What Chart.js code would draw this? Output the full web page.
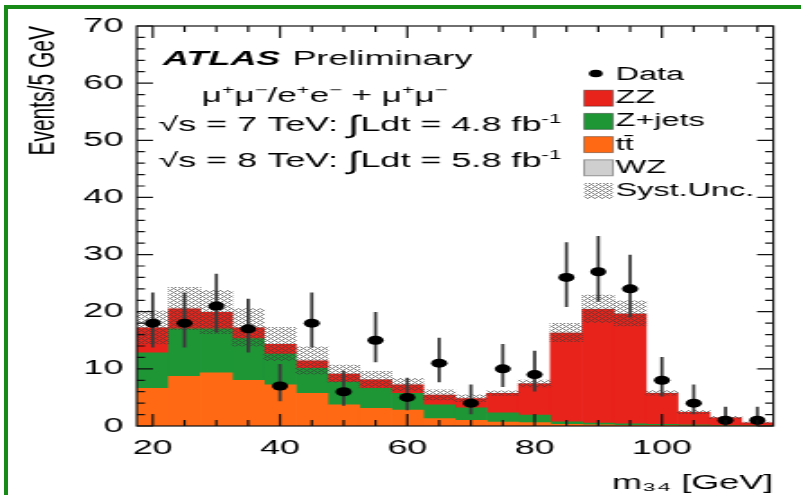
<!DOCTYPE html>
<html>
<head>
<meta charset="utf-8">
<script src="https://cdn.jsdelivr.net/npm/chart.js@4.4.1/dist/chart.umd.min.js"></script>
<style>
  html, body { margin: 0; padding: 0; background: #fff; }
  #frame { position: absolute; left: 0; top: 0; width: 801px; height: 495px; overflow: hidden; background: #fff; }
  #border { position: absolute; left: 4px; top: 5px; width: 800px; height: 495px; border-left: 4px solid #178a17; border-top: 4px solid #178a17; }
  /* the reference is a horizontally stretched picture, so the chart is drawn narrow and stretched */
  #wrap { position: absolute; left: 0; top: 0; width: 445px; height: 495px; transform: scaleX(1.8); transform-origin: 0 0; }
</style>
</head>
<body>
<div id="frame">
  <div id="border"></div>
  <div id="wrap"><canvas id="m34Chart"></canvas></div>
</div>
<script>
document.addEventListener('DOMContentLoaded', function() {
  const FONT = "'Liberation Sans', Arial, Helvetica, sans-serif";

  // bin centres, 5 GeV bins from 17.5 to 117.5
  const binCenters = [20, 25, 30, 35, 40, 45, 50, 55, 60, 65, 70, 75, 80, 85, 90, 95, 100, 105, 110, 115];
  const dataCounts = [18, 18, 21, 17, 7, 18, 6, 15, 5, 11, 4, 10, 9, 26, 27, 24, 8, 4, 1, 1];
  const dataErrUp = [5.3, 5.3, 5.6, 5.2, 3.8, 5.3, 3.6, 4.9, 3.4, 4.4, 3.2, 4.3, 4.1, 6.1, 6.2, 5.9, 4.0, 3.2, 2.3, 2.3];
  const dataErrDown = [4.2, 4.2, 4.6, 4.1, 2.6, 4.2, 2.4, 3.8, 2.2, 3.3, 1.9, 3.1, 2.9, 5.1, 5.2, 4.9, 2.8, 1.9, 0.8, 0.8];

  const ttbar = [6.6, 8.7, 9.3, 8.0, 7.2, 5.7, 3.7, 3.1, 2.8, 1.3, 1.0, 0.7, 0.6, 0.3, 0.2, 0.1, 0.1, 0.05, 0.05, 0.02];
  const zjets = [6.2, 8.3, 7.7, 7.3, 5.4, 4.4, 4.0, 3.5, 2.9, 2.4, 2.2, 1.6, 1.3, 0.45, 0.3, 0.3, 0.2, 0.15, 0.05, 0.03];
  const zz = [4.4, 3.5, 2.9, 1.9, 1.7, 1.3, 1.4, 1.5, 1.5, 1.7, 1.6, 3.4, 5.5, 15.5, 19.9, 19.2, 5.4, 2.2, 1.35, 0.5];
  const wz = [0.05, 0.05, 0.05, 0.05, 0.05, 0.05, 0.05, 0.05, 0.05, 0.05, 0.05, 0.05, 0.05, 0.1, 0.1, 0.1, 0.1, 0.05, 0.05, 0.05];
  const systUnc = [2.9, 3.7, 3.8, 3.3, 2.9, 2.4, 1.5, 1.4, 1.1, 0.9, 0.6, 0.4, 0.6, 1.6, 2.4, 2.2, 0.4, 0.3, 0.2, 0.1];

  const xTicks = [20, 40, 60, 80, 100];
  const xMinorTicks = [20, 25, 30, 35, 40, 45, 50, 55, 60, 65, 70, 75, 80, 85, 90, 95, 100, 105, 110, 115];
  const yTicks = [0, 10, 20, 30, 40, 50, 60, 70];
  const yMinorTicks = [2, 4, 6, 8, 12, 14, 16, 18, 22, 24, 26, 28, 32, 34, 36, 38, 42, 44, 46, 48, 52, 54, 56, 58, 62, 64, 66, 68];

  const colZZ = '#e8231b';
  const colZjets = '#1e9636';
  const colTT = '#ff6914';
  const colWZ = '#cfcfcf';

  // cross hatch for the systematic band
  function makeHatch() {
    const c = document.createElement('canvas');
    c.width = 8; c.height = 8;
    const g = c.getContext('2d');
    g.fillStyle = 'rgba(60,60,60,0.65)';
    for (let i = 0; i < 8; i++) {
      for (let j = 0; j < 8; j++) {
        if ((i + j) % 4 === 0 || (i - j + 8) % 4 === 0) g.fillRect(i, j, 1, 1);
      }
    }
    return c;
  }
  const ctx = document.getElementById('m34Chart').getContext('2d');
  const hatch = ctx.createPattern(makeHatch(), 'repeat');

  const total = binCenters.map((_, i) => ttbar[i] + zjets[i] + zz[i] + wz[i]);
  const pts = arr => binCenters.map((x, i) => ({x: x, y: arr[i]}));

  const datasets = [
    {
      type: 'line', label: 'Data', stack: 'data',
      data: pts(dataCounts), showLine: false,
      pointRadius: 4.5, pointBackgroundColor: '#000', pointBorderWidth: 0
    },
    {
      label: 'err', stack: 'err', grouped: false,
      data: binCenters.map((x, i) => ({x: x, y: [dataCounts[i] - dataErrDown[i], dataCounts[i] + dataErrUp[i]]})),
      backgroundColor: '#3a3a3a', barThickness: 1.1
    },
    {
      label: 'Syst.Unc.', stack: 'unc', grouped: false,
      data: binCenters.map((x, i) => ({x: x, y: [total[i] - systUnc[i], total[i] + systUnc[i]]})),
      backgroundColor: hatch, barPercentage: 1, categoryPercentage: 1
    },
    { label: 'tt\u0304', stack: 'mc', grouped: false, data: pts(ttbar), backgroundColor: colTT, barPercentage: 1, categoryPercentage: 1 },
    { label: 'Z+jets', stack: 'mc', grouped: false, data: pts(zjets), backgroundColor: colZjets, barPercentage: 1, categoryPercentage: 1 },
    { label: 'ZZ', stack: 'mc', grouped: false, data: pts(zz), backgroundColor: colZZ, barPercentage: 1, categoryPercentage: 1 },
    { label: 'WZ', stack: 'mc', grouped: false, data: pts(wz), backgroundColor: colWZ, barPercentage: 1, categoryPercentage: 1 }
  ];

  function drawRich(c, x, y, parts, size) {
    let cx = x;
    parts.forEach(([txt, mode]) => {
      let s = size, dy = 0;
      if (mode === 'sup') { s = size * 0.62; dy = -size * 0.4; }
      if (mode === 'big') { s = size * 1.25; dy = size * 0.08; }
      c.font = `${s}px ${FONT}`;
      c.fillText(txt, cx, y + dy);
      cx += c.measureText(txt).width;
    });
  }

  // frame with inward ticks on all four sides, plus labels and legend
  const atlasDecor = {
    id: 'atlasDecor',
    afterDatasetsDraw(chart) {
      const {ctx: c, chartArea: a, scales: {x, y}} = chart;
      c.save();
      c.strokeStyle = '#111';
      c.lineWidth = 1.2;
      c.strokeRect(a.left, a.top, a.right - a.left, a.bottom - a.top);
      c.beginPath();
      xMinorTicks.forEach(v => {
        const px = x.getPixelForValue(v);
        const len = xTicks.includes(v) ? 12 : 6;
        c.moveTo(px, a.bottom); c.lineTo(px, a.bottom - len);
        c.moveTo(px, a.top); c.lineTo(px, a.top + len);
      });
      yTicks.concat(yMinorTicks).forEach(v => {
        const py = y.getPixelForValue(v);
        const len = yTicks.includes(v) ? 9 : 4.5;
        c.moveTo(a.left, py); c.lineTo(a.left + len, py);
        c.moveTo(a.right, py); c.lineTo(a.right - len, py);
      });
      c.stroke();

      // text block
      c.fillStyle = '#000';
      c.textBaseline = 'alphabetic';
      c.textAlign = 'left';
      c.font = `italic bold 20px ${FONT}`;
      c.fillText('ATLAS', 90.5, 65);
      c.font = `20px ${FONT}`;
      c.fillText('Preliminary', 162.5, 65);
      drawRich(c, 112, 102, [['\u03bc'], ['+', 'sup'], ['\u03bc'], ['\u2212', 'sup'], ['/e'], ['+', 'sup'], ['e'], ['\u2212', 'sup'],
        [' + \u03bc'], ['+', 'sup'], ['\u03bc'], ['\u2212', 'sup']], 19.5);
      drawRich(c, 88, 131, [['\u221as = 7 TeV: '], ['\u222b', 'big'], ['Ldt = 4.8 fb'], ['-1', 'sup']], 20);
      drawRich(c, 88, 167, [['\u221as = 8 TeV: '], ['\u222b', 'big'], ['Ldt = 5.8 fb'], ['-1', 'sup']], 20);

      // legend
      const order = [0, 5, 4, 3, 6, 2];
      c.font = `18px ${FONT}`;
      c.textBaseline = 'middle';
      order.forEach((di, row) => {
        const ds = chart.data.datasets[di];
        const cy = 75 + row * 23.2;
        if (di === 0) {
          c.fillStyle = '#000';
          c.beginPath(); c.arc(331, cy - 1.5, 3.8, 0, Math.PI * 2); c.fill();
        } else {
          c.fillStyle = ds.backgroundColor;
          c.fillRect(324.5, cy - 8, 16, 16);
          if (di !== 2) {
            c.strokeStyle = 'rgba(0,0,0,0.35)'; c.lineWidth = 1;
            c.strokeRect(324.5, cy - 8, 16, 16);
          }
        }
        c.fillStyle = '#000';
        c.fillText(ds.label, 342, cy);
      });
      c.restore();
    }
  };

  new Chart(ctx, {
    type: 'bar',
    data: { datasets: datasets },
    options: {
      responsive: true,
      maintainAspectRatio: false,
      animation: false,
      events: [],
      layout: { padding: { left: 0, top: 26, right: 15.4, bottom: 0 } },
      plugins: { legend: { display: false }, tooltip: { enabled: false } },
      scales: {
        x: {
          type: 'linear', min: 17.5, max: 117.5, offset: false, stacked: true,
          grid: { display: false, drawTicks: false }, border: { display: false },
          afterBuildTicks: s => { s.ticks = xTicks.map(v => ({value: v})); },
          afterFit: s => { s.height = 69; },
          ticks: { color: '#000', padding: 10, font: { size: 20, family: FONT }, maxRotation: 0 },
          title: { display: true, text: 'm\u2083\u2084 [GeV]', align: 'end', color: '#000',
                   font: { size: 20, family: FONT }, padding: { top: 2, bottom: 0 } }
        },
        y: {
          min: 0, max: 70, stacked: true,
          grid: { display: false, drawTicks: false }, border: { display: false },
          afterBuildTicks: s => { s.ticks = yTicks.map(v => ({value: v})); },
          afterFit: s => { s.width = 76; },
          ticks: { color: '#000', padding: 7.5, font: { size: 20, family: FONT } },
          title: { display: true, text: 'Events/5 GeV', align: 'end', color: '#000',
                   font: { size: 21, family: FONT }, padding: { top: 12, bottom: 0 } }
        }
      }
    },
    plugins: [atlasDecor]
  });
});
</script>
</body>
</html>
